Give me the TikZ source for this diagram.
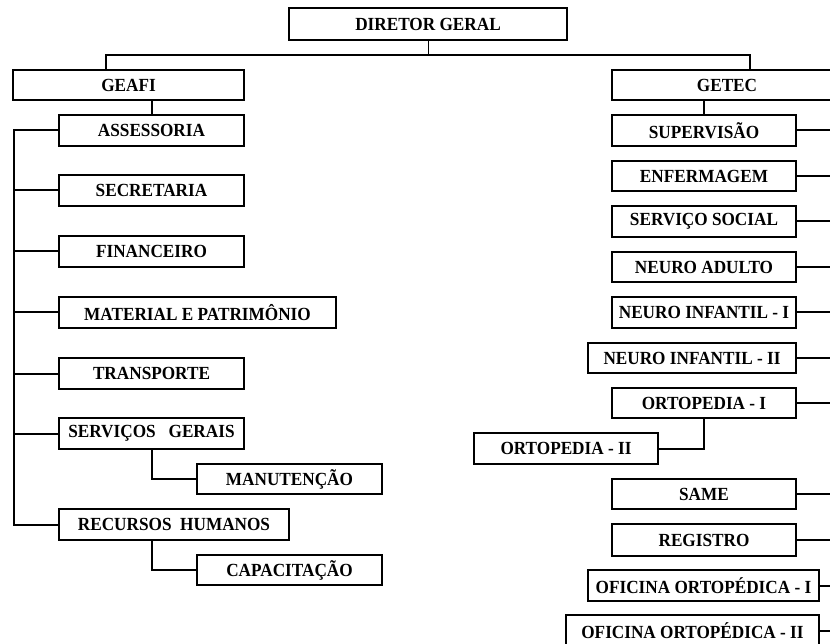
\documentclass[tikz,border=0pt]{standalone}
\usepackage{fontspec}
\setmainfont[FakeStretch=0.93]{Liberation Serif}
\usepackage{tikz}

\begin{document}
\begin{tikzpicture}[x=1pt, y=-1pt,
    caixa/.style={draw=black, line width=2pt, fill=white, inner sep=0pt,
      minimum width=185pt, minimum height=31pt,
      font=\bfseries\fontsize{18.5}{20}\selectfont},
    liga/.style={draw=black, line width=2pt}]
  \clip (0,0) rectangle (830,644);
  \fill[white] (0,0) rectangle (830,644);

  % Diretor.
  \node[caixa, minimum width=278pt, minimum height=32pt] (dg) at (428,24) {DIRETOR GERAL};
  \coordinate (topo) at (428,55);
  \coordinate (barra) at (13.5,0);
  \coordinate (borda) at (832,0);

  % Gerencias.
  \node[caixa, minimum width=231pt, minimum height=30pt] (geafi) at (128.5,85) {GEAFI};
  \node[caixa, minimum width=230pt, minimum height=30pt] (getec) at (727,85) {GETEC};

  % Lado esquerdo.
  \node[caixa] (assess) at (151.5,130.5) {ASSESSORIA};
  \node[caixa] (secret) at (151.5,190.5) {SECRETARIA};
  \node[caixa] (financ) at (151.5,251.5) {FINANCEIRO};
  \node[caixa, minimum width=277pt] (matpat) at (197.5,312.5) {MATERIAL E PATRIMÔNIO};
  \node[caixa] (transp) at (151.5,373.5) {TRANSPORTE};
  \node[caixa] (servger) at (151.5,433.5) {SERVIÇOS\ \ \ GERAIS};
  \node[caixa, minimum height=30pt] (manut) at (289.5,479) {MANUTENÇÃO};
  \node[caixa, minimum width=230pt] (rh) at (174,524.5) {RECURSOS\ \ HUMANOS};
  \node[caixa, minimum height=30pt] (capac) at (289.5,570) {CAPACITAÇÃO};

  % Lado direito.
  \node[caixa, minimum width=184pt] (superv) at (704,130.5) {SUPERVISÃO};
  \node[caixa, minimum width=184pt, minimum height=30pt] (enferm) at (704,176) {ENFERMAGEM};
  \node[caixa, minimum width=184pt] (servsoc) at (704,221.5) {SERVIÇO SOCIAL};
  \node[caixa, minimum width=184pt, minimum height=30pt] (neuroad) at (704,267) {NEURO ADULTO};
  \node[caixa, minimum width=184pt] (neuroinfa) at (704,312.5) {NEURO INFANTIL - I};
  \node[caixa, minimum width=208pt, minimum height=30pt] (neuroinfb) at (692,358) {NEURO INFANTIL - II};
  \node[caixa, minimum width=184pt, minimum height=30pt] (ortoa) at (704,403) {ORTOPEDIA - I};
  \node[caixa, minimum width=184pt] (ortob) at (566,448.5) {ORTOPEDIA - II};
  \node[caixa, minimum width=184pt, minimum height=30pt] (same) at (704,494) {SAME};
  \node[caixa, minimum width=184pt, minimum height=32pt] (regist) at (704,540) {REGISTRO};
  \node[caixa, minimum width=231pt] (ofica) at (703.5,585.5) {OFICINA ORTOPÉDICA - I};
  \node[caixa, minimum width=253pt] (oficb) at (692.5,630.5) {OFICINA ORTOPÉDICA - II};

  % Ligacoes do topo.
  \path[draw=black, line width=1pt] (dg.south) -- (topo);
  \path[liga] ([xshift=-22.5pt]geafi.north) |- (topo) -| ([xshift=23pt]getec.north);
  \path[liga] (geafi.south -| assess.north) -- (assess.north);
  \path[liga] (getec.south -| superv.north) -- (superv.north);

  % Barra esquerda.
  \path[liga] (assess.west) -- (assess.west -| barra) -- (rh.west -| barra) -- (rh.west);
  \foreach \n in {secret,financ,matpat,transp,servger}
    \path[liga] (\n.west) -- (\n.west -| barra);
  \path[liga] (servger.south) |- (manut.west);
  \path[liga] ([xshift=-22pt]rh.south) |- (capac.west);

  % Barra direita.
  \foreach \n in {superv,enferm,servsoc,neuroad,neuroinfa,neuroinfb,ortoa,same,regist,ofica,oficb}
    \path[liga] (\n.east) -- (\n.east -| borda);
  \path[liga] (ortoa.south) |- (ortob.east);
\end{tikzpicture}
\end{document}
